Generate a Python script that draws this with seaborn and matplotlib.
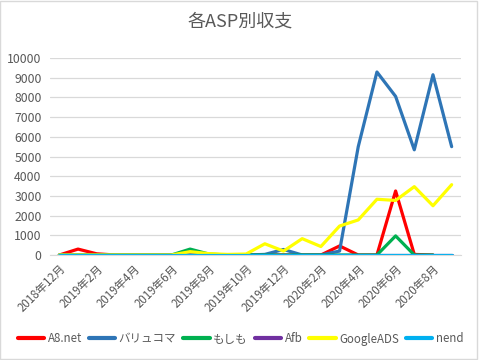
import numpy as np
import pandas as pd
import matplotlib
matplotlib.use("Agg")
import matplotlib.pyplot as plt
from matplotlib.patches import Rectangle
import seaborn as sns

months = ["2018年12月", "2019年1月", "2019年2月", "2019年3月", "2019年4月", "2019年5月",
          "2019年6月", "2019年7月", "2019年8月", "2019年9月", "2019年10月", "2019年11月",
          "2019年12月", "2020年1月", "2020年2月", "2020年3月", "2020年4月", "2020年5月",
          "2020年6月", "2020年7月", "2020年8月", "2020年9月"]

a8net = [0, 300, 60, 0, 0, 0, 0, 0, 0, 0, 0, 0, 0, 0, 0, 460, 0, 0, 3250, 30, 0, np.nan]
valuecommerce = [0, 0, 0, 0, 0, 0, 0, 0, 0, 0, 0, 30, 280, 0, 0, 200, 5500, 9290, 8050, 5340, 9150, 5500]
moshimo = [0, 0, 0, 0, 0, 0, 0, 300, 50, 0, 0, 0, 0, 0, 0, 0, 0, 0, 970, 0, 0, np.nan]
afb = [0] * 22
googleads = [0, 0, 0, 0, 0, 0, 0, 170, 70, 30, 50, 570, 200, 830, 430, 1470, 1780, 2830, 2770, 3470, 2500, 3570]
nend = [0] * 22

series_names = ["A8.net", "バリュコマ", "もしも", "Afb", "GoogleADS", "nend"]
series_vals = [a8net, valuecommerce, moshimo, afb, googleads, nend]
colors = ["#FF0000", "#2E75B6", "#00B050", "#7030A0", "#FFFF00", "#00B0F0"]

rows = []
for name, vals in zip(series_names, series_vals):
    for i, v in enumerate(vals):
        rows.append({"idx": i, "month": months[i], "series": name, "value": v})
df = pd.DataFrame(rows)

sns.set_style("white")
plt.rcParams["font.family"] = ["Noto Sans CJK JP", "DejaVu Sans"]

txt = "#595959"
fig = plt.figure(figsize=(4.81, 3.6), dpi=100)
ax = fig.add_axes([50 / 481, 1 - 255 / 360, 411 / 481, 197 / 360])

sns.lineplot(data=df, x="idx", y="value", hue="series", hue_order=series_names,
             palette=colors, linewidth=2.3, ax=ax, legend=True, sort=False)

ax.set_xlim(-0.5, 21.5)
ax.set_ylim(0, 10000)
ax.set_yticks(np.arange(0, 10001, 1000))
ax.yaxis.grid(True, color="#D9D9D9", linewidth=0.9)
ax.set_axisbelow(True)
ax.tick_params(axis="y", length=0, labelsize=8.8, labelcolor=txt, pad=6)

ax.set_xticks(np.arange(0, 22, 2))
ax.set_xticklabels(months[::2], rotation=45, ha="right", rotation_mode="anchor",
                   fontsize=8.3, color=txt)
ax.set_xticks(np.arange(-0.5, 22, 2), minor=True)
ax.tick_params(axis="x", which="major", length=0, pad=5)
ax.tick_params(axis="x", which="minor", length=5, color="#D9D9D9", direction="out")
ax.set_xlabel("")
ax.set_ylabel("")
for s in ["left", "right", "top"]:
    ax.spines[s].set_visible(False)
ax.spines["bottom"].set_color("#D9D9D9")

handles, labels = ax.get_legend_handles_labels()
ax.get_legend().remove()
leg = fig.legend(handles, labels, loc="center", bbox_to_anchor=(0.5, 1 - 339 / 360),
                 ncol=6, frameon=False, fontsize=8.3, handlelength=2.3,
                 columnspacing=0.6, handletextpad=0.3)
for t in leg.get_texts():
    t.set_color(txt)
for l in leg.get_lines():
    l.set_linewidth(3)

fig.text(0.5, 1 - 22 / 360, "各ASP別収支", ha="center", va="center", fontsize=13, color=txt)

fig.patches.append(Rectangle((0.001, 0.003), 0.99, 0.994, transform=fig.transFigure,
                             fill=False, edgecolor="#D9D9D9", linewidth=1))

fig.savefig("out.png", dpi=100)
